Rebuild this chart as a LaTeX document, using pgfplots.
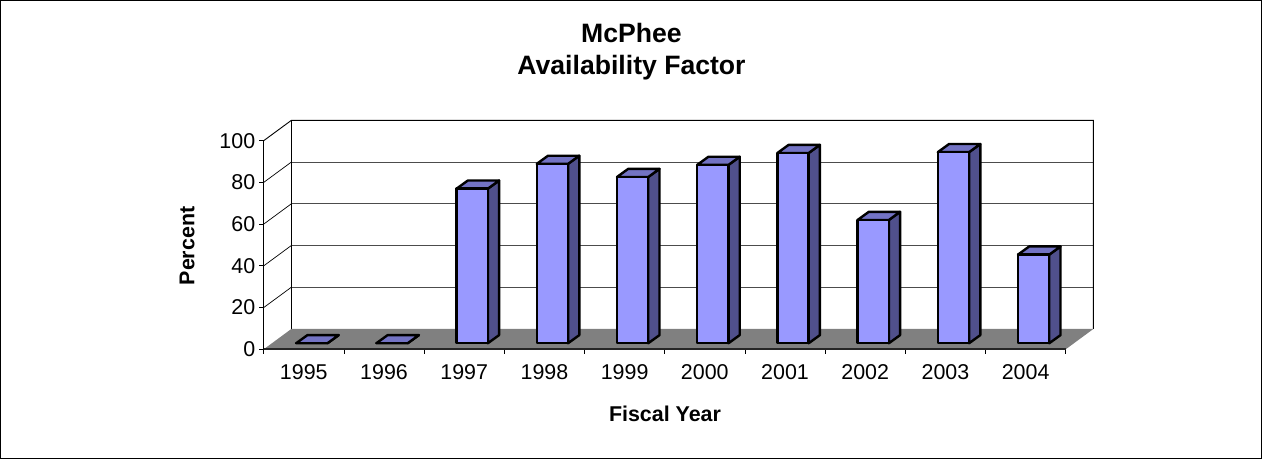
\documentclass[border=0pt]{standalone}
\usepackage{fontspec}
\setmainfont{Liberation Sans}
\usepackage{pgfplots}
\pgfplotsset{compat=1.18}
\definecolor{barfront}{HTML}{9999FF}
\definecolor{barside}{HTML}{50508C}
\definecolor{bartop}{HTML}{7373C4}
\definecolor{floorgray}{HTML}{808080}
\newcommand\bardd[2]{%
  \pgfmathsetmacro\xa{#1+0.1-0.195}\pgfmathsetmacro\xb{#1+0.1+0.195}%
  \pgfmathsetmacro\xc{\xa+0.14}\pgfmathsetmacro\xd{\xb+0.14}%
  \pgfmathsetmacro\ya{2.9}\pgfmathsetmacro\yb{2.9+#2}%
  \pgfmathsetmacro\yc{\ya+3.9}\pgfmathsetmacro\yd{\yb+3.9}%
  \edef\tmp{%
  \noexpand\addplot[draw=black,line width=2.4bp,line join=round,fill=barside] coordinates {(\xb,\ya)(\xd,\yc)(\xd,\yd)(\xb,\yb)} -- cycle;
  \noexpand\addplot[draw=black,line width=2.4bp,line join=round,fill=bartop] coordinates {(\xa,\yb)(\xb,\yb)(\xd,\yd)(\xc,\yd)} -- cycle;
  \noexpand\addplot[draw=black,line width=2.4bp,line join=round,fill=barfront] coordinates {(\xa,\ya)(\xb,\ya)(\xb,\yb)(\xa,\yb)} -- cycle;
  }\tmp}
\begin{document}
\begin{tikzpicture}[x=1bp,y=1bp]
\path[use as bounding box] (0,0) rectangle (1262,459);
\draw[black,line width=0.9bp] (0.6,0.8) rectangle (1261.4,458.4);
\begin{axis}[
  at={(263.7bp,109.7bp)},anchor=south west,
  scale only axis,width=829.6bp,height=228.9bp,
  xmin=-0.5,xmax=9.844,ymin=0,ymax=109.73,
  clip=false,
  axis line style={draw=none},
  xtick={0,...,9},
  xticklabels={1995,1996,1997,1998,1999,2000,2001,2002,2003,2004},
  minor xtick={-0.5,0.5,1.5,2.5,3.5,4.5,5.5,6.5,7.5,8.5,9.5},
  ytick={0,20,40,60,80,100},
  xtick pos=left,ytick pos=left,tick align=outside,
  x tick style={draw=none},
  minor x tick style={draw=black,line width=0.7bp},
  y tick style={draw=black,line width=0.7bp},
  major tick length=4.5bp,minor tick length=4.5bp,
  tick label style={font=\fontsize{21.5}{24}\selectfont,/pgf/number format/assume math mode=true,/pgf/number format/1000 sep={}},
  xticklabel style={yshift=-7.5bp},
  yticklabel style={xshift=-0.5bp},
]
% back wall gridlines
\addplot[draw=black!70,line width=0.8bp] coordinates {(-0.156,29.73)(9.844,29.73)};
\addplot[draw=black!70,line width=0.8bp] coordinates {(-0.156,49.73)(9.844,49.73)};
\addplot[draw=black!70,line width=0.8bp] coordinates {(-0.156,69.73)(9.844,69.73)};
\addplot[draw=black!70,line width=0.8bp] coordinates {(-0.156,89.73)(9.844,89.73)};
\addplot[draw=black,line width=0.9bp] coordinates {(-0.5,100)(-0.156,109.73)(9.844,109.73)(9.844,9.73)};
\addplot[draw=black,line width=0.8bp] coordinates {(-0.156,9.73)(-0.156,109.73)};
\addplot[draw=black,line width=0.8bp] coordinates {(-0.5,0)(-0.5,100)};
\addplot[draw=black,line width=0.7bp] coordinates {(-0.5,20)(-0.156,29.73)};
\addplot[draw=black,line width=0.7bp] coordinates {(-0.5,40)(-0.156,49.73)};
\addplot[draw=black,line width=0.7bp] coordinates {(-0.5,60)(-0.156,69.73)};
\addplot[draw=black,line width=0.7bp] coordinates {(-0.5,80)(-0.156,89.73)};
% floor
\addplot[draw=none,fill=floorgray] coordinates {(-0.5,0)(9.5,0)(9.844,9.73)(-0.156,9.73)} -- cycle;
\addplot[draw=black!85,line width=1.6bp] coordinates {(-0.5,0)(9.5,0)};
% bars
\bardd{0}{0}
\bardd{1}{0}
\bardd{2}{74.1}
\bardd{3}{86}
\bardd{4}{79.7}
\bardd{5}{85.5}
\bardd{6}{91.2}
\bardd{7}{59.1}
\bardd{8}{91.6}
\bardd{9}{42.5}
\end{axis}
\node[font=\fontsize{26.7}{30}\selectfont\bfseries] at (631.5,426) {McPhee};
\node[font=\fontsize{26.7}{30}\selectfont\bfseries] at (631.5,391.5) {Availability Factor};
\node[font=\fontsize{21.5}{24}\selectfont\bfseries,rotate=90] at (187,213) {Percent};
\node[font=\fontsize{21.5}{24}\selectfont\bfseries] at (665,45) {Fiscal Year};
\end{tikzpicture}
\end{document}
